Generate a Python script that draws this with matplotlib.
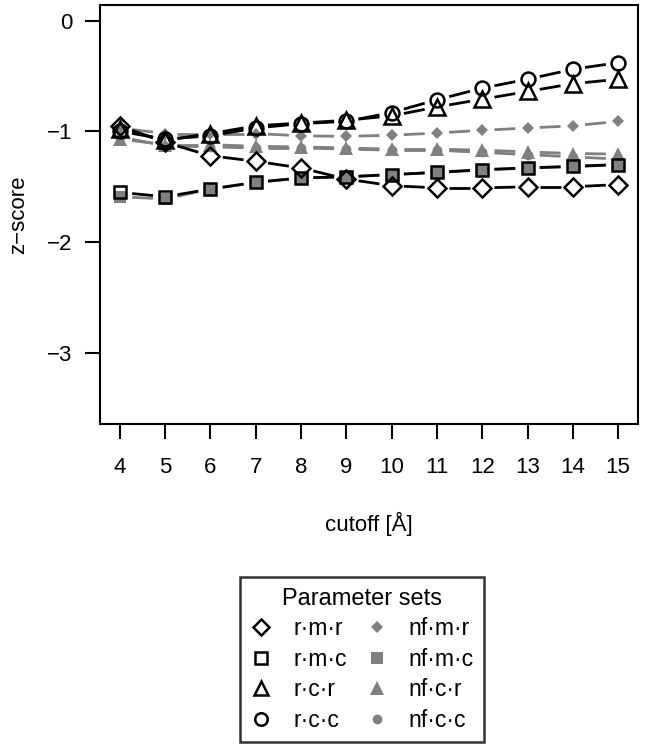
import numpy as np
import matplotlib.pyplot as plt
from matplotlib.lines import Line2D

plt.rcParams['font.family'] = ['Liberation Sans', 'DejaVu Sans']

cutoff = [4, 5, 6, 7, 8, 9, 10, 11, 12, 13, 14, 15]
labels = ['r\u00b7m\u00b7r', 'r\u00b7m\u00b7c', 'r\u00b7c\u00b7r', 'r\u00b7c\u00b7c',
          'nf\u00b7m\u00b7r', 'nf\u00b7m\u00b7c', 'nf\u00b7c\u00b7r', 'nf\u00b7c\u00b7c']

rmr = [-0.95, -1.10, -1.22, -1.27, -1.33, -1.43, -1.49, -1.51, -1.51, -1.50, -1.50, -1.48]
rmc = [-1.55, -1.59, -1.52, -1.46, -1.42, -1.41, -1.39, -1.37, -1.345, -1.33, -1.315, -1.30]
rcr = [-0.98, -1.08, -1.02, -0.95, -0.925, -0.90, -0.86, -0.78, -0.71, -0.64, -0.57, -0.53]
rcc = [-1.00, -1.07, -1.04, -0.97, -0.93, -0.91, -0.83, -0.715, -0.61, -0.53, -0.44, -0.38]
nfmr = [-0.97, -1.02, -1.02, -1.02, -1.04, -1.045, -1.035, -1.015, -0.99, -0.97, -0.95, -0.91]
nfmc = [-1.59, -1.61, -1.52, -1.46, -1.42, -1.41, -1.39, -1.37, -1.35, -1.33, -1.32, -1.30]
nfcr = [-1.07, -1.12, -1.12, -1.135, -1.14, -1.15, -1.16, -1.16, -1.17, -1.185, -1.20, -1.205]
nfcc = [-1.05, -1.13, -1.14, -1.15, -1.15, -1.16, -1.17, -1.17, -1.19, -1.21, -1.23, -1.25]

grey = '#808080'
# (values, marker, size, colour, filled)
series = [
    (nfmr, 'D', 6, grey, True),
    (nfmc, 's', 8, grey, True),
    (nfcr, '^', 10, grey, True),
    (nfcc, 'o', 7, grey, True),
    (rmr, 'D', 9, 'black', False),
    (rmc, 's', 9, 'black', False),
    (rcr, '^', 11, 'black', False),
    (rcc, 'o', 10, 'black', False),
]

fig = plt.figure(figsize=(6.45, 7.5), dpi=100)
ax = fig.add_axes([100 / 645, 1 - 424 / 750, 538 / 645, 419 / 750])

x = np.array(cutoff, dtype=float)
gap = 0.27  # like type="b": lines stop short of the points
for vals, m, ms, col, filled in series:
    y = np.array(vals)
    for i in range(len(x) - 1):
        xs = [x[i] + gap * (x[i + 1] - x[i]), x[i + 1] - gap * (x[i + 1] - x[i])]
        ys = [y[i] + gap * (y[i + 1] - y[i]), y[i + 1] - gap * (y[i + 1] - y[i])]
        ax.plot(xs, ys, color=col, lw=2, solid_capstyle='butt')
    if filled:
        ax.plot(x, y, ls='none', marker=m, ms=ms, color=col, mec=col, mew=0)
    else:
        ax.plot(x, y, ls='none', marker=m, ms=ms, mfc='none', mec=col, mew=1.8)

ax.set_xlim(3.56, 15.44)
ax.set_ylim(-3.64, 0.14)
ax.set_xticks(cutoff)
ax.set_yticks([0, -1, -2, -3])
ax.set_yticklabels(['0', '\u22121', '\u22122', '\u22123'])
ax.tick_params(axis='both', direction='out', length=11, width=1.5, labelsize=16)
ax.tick_params(axis='x', pad=13)
ax.tick_params(axis='y', pad=9)
for s in ax.spines.values():
    s.set_linewidth(1.5)

ax.set_xlabel('cutoff [\u00c5]', fontsize=16, labelpad=24)
ax.set_ylabel('z\u2212score', fontsize=16, labelpad=13)

handles = []
for vals, m, ms, col, filled in series[4:] + series[:4]:
    if filled:
        h = Line2D([], [], ls='none', marker=m, ms=ms, color=col, mew=0)
    else:
        h = Line2D([], [], ls='none', marker=m, ms=ms - 1, mfc='none', mec=col, mew=1.8)
    handles.append(h)

leg = fig.legend(handles, labels, ncol=2, title='Parameter sets',
                 loc='upper center', bbox_to_anchor=(362 / 645, 1 - 566 / 750),
                 fontsize=16.5, title_fontsize=17, frameon=True, fancybox=False,
                 edgecolor='black', handlelength=1.0, handletextpad=0.9,
                 columnspacing=0.8, labelspacing=0.33, borderpad=0.45)
leg.get_frame().set_linewidth(1.8)

fig.savefig('out.png', dpi=100)
